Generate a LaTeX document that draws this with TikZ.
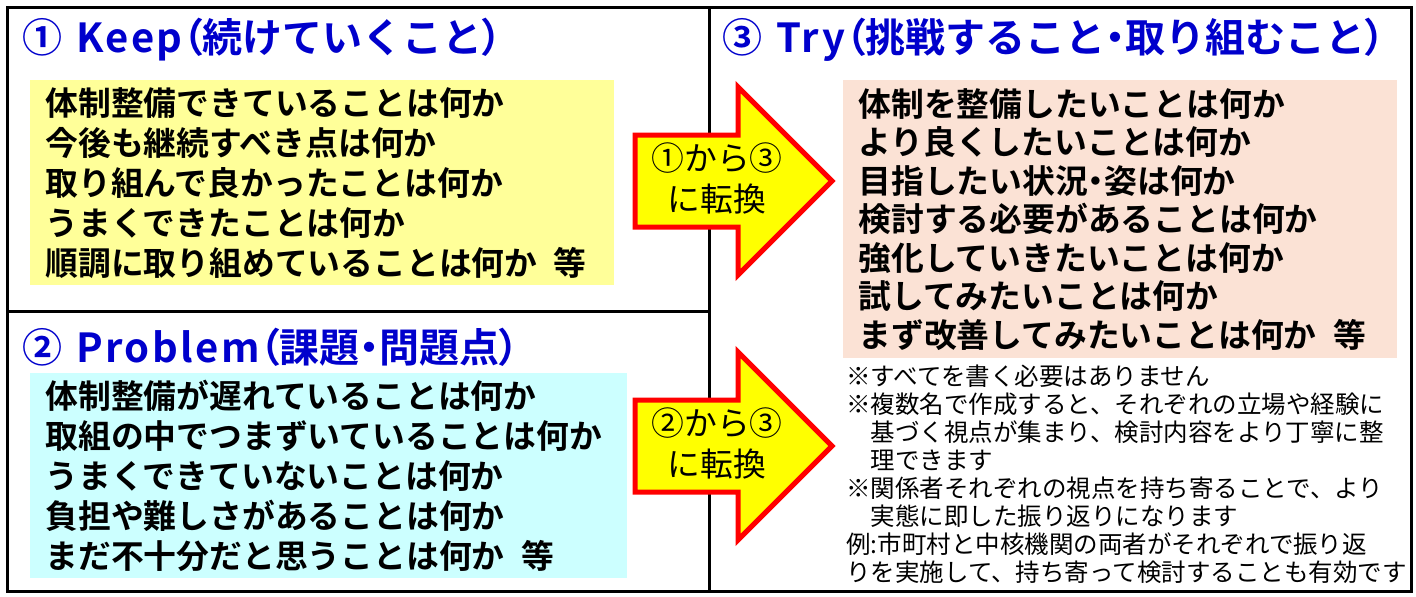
\documentclass[tikz,border=0pt]{standalone}
\usepackage{fontspec}
\setmainfont{Noto Sans CJK JP}[BoldFont={Noto Sans CJK JP Bold}]
\usepackage{tikz}
\usetikzlibrary{positioning}
\definecolor{titleblue}{HTML}{0000CC}
\definecolor{keepfill}{HTML}{FFFF99}
\definecolor{probfill}{HTML}{CCFFFF}
\definecolor{tryfill}{HTML}{FBE2D5}
\definecolor{arrowred}{HTML}{FF0000}
\definecolor{arrowfill}{HTML}{FFFF00}
% narrow punctuation and spaced latin words
\newcommand{\pp}[1]{{\addfontfeatures{RawFeature=+palt}#1}}
\newcommand{\ltn}[1]{{\addfontfeatures{LetterSpace=6}#1}}
\newcommand{\etc}{\hspace{0.5em}等}
\tikzset{
  heading/.style={anchor=west,inner sep=0pt,text=titleblue,
    font=\fontsize{20}{22}\selectfont\bfseries},
  listbox/.style={anchor=north west,inner xsep=7.5pt,inner ysep=0pt,align=left,
    font=\fontsize{16.4}{20}\selectfont\bfseries},
  notes/.style={anchor=north west,inner sep=0pt,align=left,
    font=\fontsize{12.25}{14}\selectfont},
  swapbody/.style={draw=arrowred,fill=arrowfill,line width=2.5pt,line join=miter},
  swaptext/.style={align=center,inner sep=0pt,font=\fontsize{16.4}{20.5}\selectfont}
}

\begin{document}
\begin{tikzpicture}[x=0.5pt,y=-0.5pt]
  \useasboundingbox (0,0) rectangle (1416,596);
  % frame
  \draw[line width=1.5pt] (7,7) rectangle (1411,591);
  \draw[line width=1.5pt] (709,7) -- (709,591);
  \draw[line width=1.5pt] (7,311) -- (709,311);
  % headings
  \node[heading] (keephead) at (22,40)
    {①\hspace{7pt}\ltn{Keep}\pp{（}続けていくこと\pp{）}};
  \node[heading] (probhead) at (22,347)
    {②\hspace{7pt}\ltn{Problem}\pp{（}課題\pp{・}問題点\pp{）}};
  \node[heading] (tryhead) at (722,40)
    {③\hspace{7pt}\ltn{Try}\pp{（}挑戦すること\pp{・}取り組むこと\pp{）}};
  % lists
  \node[listbox,fill=keepfill,text width=277pt,minimum height=102.5pt] (keepbox) at (30,80)
    {体制整備できていることは何か\\
     今後も継続すべき点は何か\\
     取り組んで良かったことは何か\\
     うまくできたことは何か\\
     順調に取り組めていることは何か\etc};
  \node[listbox,fill=probfill,text width=283.5pt,minimum height=102.5pt] (probbox) at (30,373)
    {体制整備が遅れていることは何か\\
     取組の中でつまずいていることは何か\\
     うまくできていないことは何か\\
     負担や難しさがあることは何か\\
     まだ不十分だと思うことは何か\etc};
  \node[listbox,fill=tryfill,text width=262pt,minimum height=139pt,
    font=\fontsize{16.4}{19.25}\selectfont\bfseries] (trybox) at (843,80)
    {体制を整備したいことは何か\\
     より良くしたいことは何か\\
     目指したい状況\pp{・}姿は何か\\
     検討する必要があることは何か\\
     強化していきたいことは何か\\
     試してみたいことは何か\\
     まず改善してみたいことは何か\etc};
  \node[notes] (trynotes) at (846,364)
    {※すべてを書く必要はありません\\
     ※複数名で作成すると、それぞれの立場や経験に\\
     \hphantom{※}基づく視点が集まり、検討内容をより丁寧に整\\
     \hphantom{※}理できます\\
     ※関係者それぞれの視点を持ち寄ることで、より\\
     \hphantom{※}実態に即した振り返りになります\\
     例:市町村と中核機関の両者がそれぞれで振り返\\
     りを実施して、持ち寄って検討することも有効です};
  % block arrows
  \foreach \ay/\from [count=\i] in {181/①,446/②} {
    \draw[swapbody] (635,\ay-46) -- (738,\ay-46) -- (738,\ay-94) -- (832,\ay)
      -- (738,\ay+94) -- (738,\ay+46) -- (635,\ay+46) -- cycle;
    \node[swaptext] (swap\i) at (717,\ay-3) {\from から③\\に転換};
  }
\end{tikzpicture}
\end{document}
